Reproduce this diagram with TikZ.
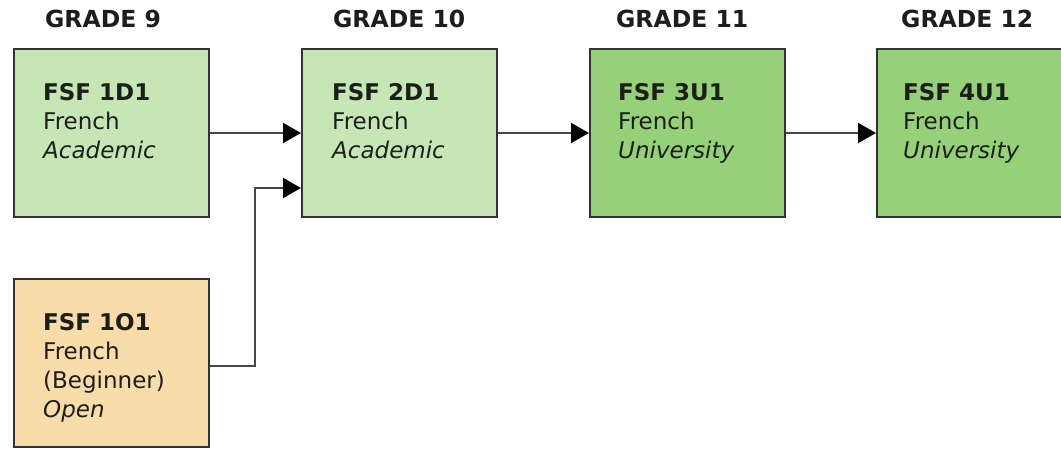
\documentclass[tikz,border=0pt]{standalone}
\usepackage{fontspec}
\setmainfont{DejaVu Sans}
\usetikzlibrary{arrows.meta,calc}
\definecolor{lgreen}{RGB}{198,231,181}
\definecolor{dgreen}{RGB}{150,208,120}
\definecolor{peach}{RGB}{248,220,170}
\definecolor{txtc}{RGB}{28,30,26}
\begin{document}
\begin{tikzpicture}[x=1pt,y=-1pt,
  course/.style={draw=black!80, line width=2pt, minimum width=195pt, minimum height=168pt, anchor=north west, inner sep=0pt},
  txt/.style={anchor=north west, align=left, font=\fontsize{23}{29}\selectfont, inner sep=0pt, text=txtc},
  head/.style={anchor=north west, inner sep=0pt, font=\fontsize{23.5}{26}\selectfont\bfseries, text=txtc},
  arr/.style={draw=black!72, line width=2pt, -{Triangle[length=18pt,width=20pt,color=black]}}]
\useasboundingbox[fill=white] (0,0) rectangle (1061,448);
\begin{scope}
\clip (0,0) rectangle (1061,448);
\node[head] (h9) at (45,10) {GRADE 9};
\node[head] (h10) at (333,10) {GRADE 10};
\node[head] (h11) at (616,10) {GRADE 11};
\node[head] (h12) at (901,10) {GRADE 12};

\node[course, fill=lgreen] (b1) at (13,48) {};
\node[course, fill=lgreen] (b2) at (301,48) {};
\node[course, fill=dgreen] (b3) at (589,48) {};
\node[course, fill=dgreen] (b4) at (876,48) {};
\node[course, fill=peach] (b5) at (13,278) {};

\node[txt] (t1) at (43,83) {\textbf{FSF 1D1}\\French\\\textit{Academic}};
\node[txt] (t2) at (332,83) {\textbf{FSF 2D1}\\French\\\textit{Academic}};
\node[txt] (t3) at (618,83) {\textbf{FSF 3U1}\\French\\\textit{University}};
\node[txt] (t4) at (903,83) {\textbf{FSF 4U1}\\French\\\textit{University}};
\node[txt] (t5) at (43,313) {\textbf{FSF 1O1}\\French\\(Beginner)\\\textit{Open}};

\draw[arr] (b1.east) -- (b2.west);
\draw[arr] (b2.east) -- (b3.west);
\draw[arr] (b3.east) -- (b4.west);
\coordinate (in2) at ($(b2.west)+(0,55)$);
\draw[arr] ($(b5.east)+(0,3)$) -- ++(45,0) |- (in2);
\end{scope}
\end{tikzpicture}
\end{document}
